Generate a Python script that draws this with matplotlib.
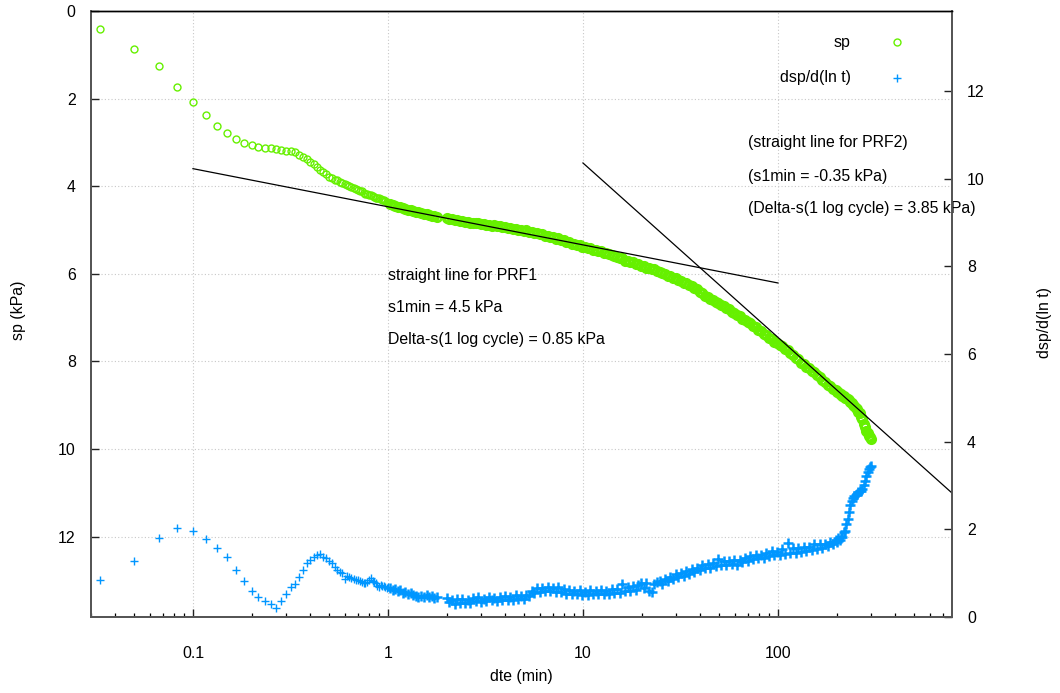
import numpy as np
import matplotlib
matplotlib.use("Agg")
import matplotlib.pyplot as plt
from matplotlib.ticker import FixedLocator, FixedFormatter, LogLocator, NullFormatter

plt.rcParams['font.family'] = ['Liberation Sans', 'DejaVu Sans']

# ---------------- data ----------------
# elapsed time dte (min)
dte_early = [
    0.0333, 0.05, 0.0667, 0.0833, 0.1, 0.1167, 0.1333, 0.15, 0.1667, 0.1833,
    0.2, 0.2167, 0.2333, 0.25, 0.2667, 0.2833, 0.3, 0.3167, 0.3333, 0.35,
    0.3667, 0.3833, 0.4, 0.4167, 0.4333, 0.45, 0.4667, 0.4833, 0.5, 0.5167,
    0.5333, 0.55, 0.5667, 0.5833, 0.6, 0.6167, 0.6333, 0.65, 0.6667, 0.6833,
    0.7, 0.7167, 0.7333, 0.75, 0.7667, 0.7833, 0.8, 0.8167, 0.8333, 0.85,
    0.8667, 0.8833, 0.9, 0.9167, 0.9333, 0.95, 0.9667, 0.9833, 1.0,
]
sp_early = [
    0.42, 0.86, 1.26, 1.73, 2.07, 2.37, 2.63, 2.79, 2.92, 3.02,
    3.07, 3.11, 3.12, 3.13, 3.16, 3.18, 3.20, 3.20, 3.22, 3.28,
    3.33, 3.39, 3.44, 3.49, 3.56, 3.62, 3.68, 3.73, 3.78, 3.82,
    3.85, 3.87, 3.90, 3.93, 3.95, 3.98, 4.00, 4.03, 4.05, 4.07,
    4.09, 4.10, 4.12, 4.15, 4.17, 4.18, 4.20, 4.21, 4.23, 4.24,
    4.26, 4.27, 4.28, 4.30, 4.31, 4.32, 4.34, 4.36, 4.38,
]
dsp_early = [
    0.84, 1.28, 1.80, 2.03, 1.95, 1.77, 1.56, 1.36, 1.06, 0.82,
    0.59, 0.46, 0.36, 0.28, 0.21, 0.36, 0.51, 0.67, 0.75, 0.91,
    1.07, 1.22, 1.30, 1.37, 1.41, 1.43, 1.37, 1.33, 1.28, 1.23,
    1.14, 1.07, 1.02, 0.99, 0.85, 0.94, 0.91, 0.88, 0.86, 0.84,
    0.83, 0.82, 0.80, 0.78, 0.76, 0.80, 0.84, 0.88, 0.82, 0.79,
    0.76, 0.70, 0.67, 0.72, 0.70, 0.71, 0.68, 0.66, 0.67,
]

dte_mid = [
    1.03, 1.06, 1.09, 1.12, 1.15, 1.19, 1.23, 1.27, 1.31, 1.35,
    1.39, 1.43, 1.48, 1.53, 1.58, 1.63, 1.68, 1.73, 1.78,
]
sp_mid = [
    4.41, 4.43, 4.45, 4.47, 4.48, 4.50, 4.52, 4.54, 4.55, 4.56,
    4.58, 4.59, 4.61, 4.63, 4.64, 4.66, 4.67, 4.68, 4.70,
]
dsp_mid = [
    0.66, 0.62, 0.64, 0.58, 0.60, 0.55, 0.57, 0.52, 0.54, 0.49,
    0.47, 0.44, 0.48, 0.45, 0.49, 0.44, 0.47, 0.42, 0.45,
]

dte_late = [
    2.0, 2.06, 2.13, 2.2, 2.27, 2.34, 2.41, 2.49, 2.57, 2.65,
    2.73, 2.82, 2.91, 3.0, 3.1, 3.2, 3.3, 3.4, 3.51, 3.62,
    3.74, 3.86, 3.98, 4.11, 4.24, 4.38, 4.52, 4.66, 4.81, 4.96,
    5.12, 5.29, 5.46, 5.63, 5.81, 6.0, 6.19, 6.39, 6.59, 6.8,
    7.02, 7.25, 7.48, 7.72, 7.96, 8.22, 8.48, 8.75, 9.03, 9.32,
    9.62, 9.93, 10.25, 10.58, 10.91, 11.26, 11.62, 12.0, 12.38, 12.78,
    13.19, 13.61, 14.04, 14.49, 14.96, 15.44, 15.93, 16.44, 16.96, 17.51,
    18.07, 18.65, 19.24, 19.86, 20.5, 21.15, 21.83, 22.53, 23.25, 23.99,
    24.76, 25.55, 26.37, 27.21, 28.08, 28.98, 29.91, 30.87, 31.85, 32.87,
    33.92, 35.01, 36.13, 37.28, 38.48, 39.71, 40.98, 42.29, 43.64, 45.04,
    46.48, 47.97, 49.5, 51.08, 52.72, 54.4, 56.14, 57.94, 59.79, 61.71,
    63.68, 65.72, 67.82, 69.99, 72.23, 74.54, 76.93, 79.39, 81.93, 84.55,
    87.26, 90.05, 92.93, 95.9, 98.97, 102.1, 105.4, 108.8, 112.3, 115.9,
    119.6, 123.4, 127.3, 131.4, 135.6, 139.9, 144.4, 149.0, 153.8, 158.7,
    163.8, 169.0, 174.4, 180.0, 185.8, 191.7, 197.8, 201.0, 204.2, 207.4,
    210.7, 214.0, 217.4, 220.9, 224.4, 228.0, 231.6, 235.3, 239.0, 242.8,
    246.6, 250.5, 254.5, 258.6, 262.7, 266.9, 271.1, 275.4, 279.7, 284.2,
    288.7, 293.3, 297.9, 300.0,
]
sp_late = [
    4.73, 4.75, 4.75, 4.78, 4.77, 4.80, 4.79, 4.82, 4.81, 4.84,
    4.83, 4.85, 4.84, 4.87, 4.86, 4.89, 4.88, 4.91, 4.89, 4.92,
    4.91, 4.94, 4.93, 4.96, 4.95, 4.98, 4.97, 5.00, 4.99, 5.02,
    5.01, 5.04, 5.04, 5.07, 5.07, 5.10, 5.10, 5.13, 5.13, 5.16,
    5.16, 5.20, 5.19, 5.23, 5.23, 5.27, 5.27, 5.31, 5.31, 5.35,
    5.35, 5.39, 5.38, 5.42, 5.41, 5.45, 5.45, 5.48, 5.48, 5.52,
    5.52, 5.55, 5.56, 5.60, 5.61, 5.65, 5.65, 5.70, 5.70, 5.74,
    5.74, 5.78, 5.78, 5.82, 5.82, 5.86, 5.86, 5.90, 5.90, 5.94,
    5.95, 5.99, 6.00, 6.04, 6.05, 6.10, 6.10, 6.15, 6.16, 6.21,
    6.21, 6.26, 6.27, 6.33, 6.35, 6.41, 6.44, 6.50, 6.52, 6.58,
    6.60, 6.65, 6.67, 6.72, 6.74, 6.79, 6.81, 6.87, 6.89, 6.95,
    6.97, 7.03, 7.05, 7.11, 7.13, 7.20, 7.22, 7.29, 7.31, 7.38,
    7.40, 7.47, 7.49, 7.55, 7.57, 7.63, 7.66, 7.72, 7.75, 7.82,
    7.85, 7.92, 7.95, 8.03, 8.06, 8.13, 8.15, 8.22, 8.25, 8.32,
    8.36, 8.43, 8.46, 8.53, 8.56, 8.62, 8.65, 8.69, 8.69, 8.74,
    8.74, 8.78, 8.78, 8.83, 8.83, 8.87, 8.88, 8.93, 8.95, 9.00,
    9.02, 9.07, 9.09, 9.15, 9.18, 9.27, 9.32, 9.43, 9.49, 9.59,
    9.64, 9.71, 9.73, 9.77,
]
dsp_late = [
    0.43, 0.34, 0.38, 0.29, 0.40, 0.32, 0.41, 0.31, 0.37, 0.32,
    0.42, 0.35, 0.44, 0.34, 0.41, 0.35, 0.45, 0.37, 0.43, 0.36,
    0.45, 0.39, 0.47, 0.38, 0.44, 0.38, 0.49, 0.40, 0.48, 0.40,
    0.49, 0.47, 0.59, 0.55, 0.65, 0.57, 0.66, 0.59, 0.68, 0.58,
    0.65, 0.57, 0.67, 0.57, 0.64, 0.52, 0.60, 0.51, 0.59, 0.51,
    0.60, 0.49, 0.57, 0.49, 0.60, 0.52, 0.59, 0.51, 0.61, 0.52,
    0.59, 0.52, 0.63, 0.55, 0.63, 0.55, 0.74, 0.59, 0.67, 0.59,
    0.69, 0.62, 0.73, 0.76, 0.66, 0.76, 0.58, 0.56, 0.75, 0.79,
    0.82, 0.75, 0.86, 0.81, 0.91, 0.86, 0.97, 0.91, 1.00, 0.94,
    1.04, 0.98, 1.09, 1.02, 1.11, 1.06, 1.17, 1.11, 1.20, 1.12,
    1.23, 1.15, 1.31, 1.18, 1.28, 1.18, 1.28, 1.20, 1.30, 1.19,
    1.30, 1.25, 1.35, 1.28, 1.38, 1.31, 1.40, 1.33, 1.42, 1.35,
    1.45, 1.39, 1.49, 1.40, 1.48, 1.42, 1.55, 1.43, 1.68, 1.46,
    1.56, 1.46, 1.56, 1.48, 1.59, 1.51, 1.60, 1.52, 1.65, 1.55,
    1.65, 1.57, 1.67, 1.61, 1.71, 1.65, 1.75, 1.71, 1.79, 1.74,
    1.83, 1.81, 1.93, 1.96, 2.11, 2.22, 2.38, 2.55, 2.64, 2.70,
    2.75, 2.78, 2.81, 2.84, 2.86, 2.88, 2.92, 3.00, 3.10, 3.22,
    3.30, 3.38, 3.42, 3.45,
]

# straight-line fits (end points, in data units)
prf1_t = [0.1, 100.0]
prf1_sp = [3.60, 6.21]
prf2_t = [10.0, 778.0]
prf2_sp = [3.47, 11.0]

x_ticks = [0.1, 1, 10, 100]
x_tick_labels = ['0.1', '1', '10', '100']
y_left_ticks = [0, 2, 4, 6, 8, 10, 12]
y_right_ticks = [0, 2, 4, 6, 8, 10, 12]

GREEN = '#66f000'
BLUE = '#0096ff'
FS = 11.4

# ---------------- figure ----------------
W, H = 1060, 693
fig = plt.figure(figsize=(W / 100, H / 100), dpi=100)
L, R, T, B = 91, 951.7, 11, 616.7
ax = fig.add_axes([L / W, (H - B) / H, (R - L) / W, (B - T) / H])
ax2 = ax.twinx()

ax.set_xscale('log')
ax.set_xlim(0.03, 778)
ax.set_ylim(13.83, 0)
ax2.set_ylim(0, 13.83)

dte_dense = dte_mid + dte_late
sp_dense = sp_mid + sp_late
dsp_dense = dsp_mid + dsp_late

# sparse early points: thin rings / crosses
ax.plot(dte_early, sp_early, linestyle='none', marker='o', markersize=5,
        markerfacecolor='none', markeredgecolor=GREEN, markeredgewidth=1.0, zorder=3)
# dense part: many overlapping points make a heavy band
ax.plot(dte_dense, sp_dense, linestyle='none', marker='o', markersize=6,
        markerfacecolor='none', markeredgecolor=GREEN, markeredgewidth=2.0, zorder=3)
ax.plot(prf1_t, prf1_sp, color='black', lw=0.9, zorder=4)
ax.plot(prf2_t, prf2_sp, color='black', lw=0.9, zorder=4)

ax2.plot(dte_early, dsp_early, linestyle='none', marker='+', markersize=5.5,
         color=BLUE, markeredgewidth=1.0, zorder=3)
ax2.plot(dte_dense, dsp_dense, linestyle='none', marker='+', markersize=7.5,
         color=BLUE, markeredgewidth=1.8, zorder=3)

# grid
ax.set_axisbelow(True)
ax.grid(True, which='major', axis='both', color='#c8c8c8', lw=0.8,
        linestyle=(0, (1, 2)))

# ticks
ax.xaxis.set_major_locator(FixedLocator(x_ticks))
ax.xaxis.set_major_formatter(FixedFormatter(x_tick_labels))
ax.xaxis.set_minor_locator(LogLocator(base=10, subs=np.arange(2, 10)))
ax.xaxis.set_minor_formatter(NullFormatter())
ax.set_yticks(y_left_ticks)
ax2.set_yticks(y_right_ticks)

ax.tick_params(axis='x', which='major', direction='in', length=6, width=1.0,
               pad=21, labelsize=FS, top=False, colors='#222222')
ax.tick_params(axis='x', which='minor', direction='in', length=3, width=0.9, top=False)
ax.tick_params(axis='y', which='major', direction='in', length=6, width=1.0,
               pad=11, labelsize=FS, right=False, colors='#222222')
ax.tick_params(axis='y', which='minor', left=False)
ax2.tick_params(axis='y', which='major', direction='in', length=6, width=1.0,
                pad=11, labelsize=FS, colors='#222222')
for t in ax.get_xticklabels() + ax.get_yticklabels() + ax2.get_yticklabels():
    t.set_color('black')

for a in (ax, ax2):
    for s in ('left', 'bottom', 'right'):
        a.spines[s].set_color('#555555')
        a.spines[s].set_linewidth(1.3)
    a.spines['top'].set_color('black')
    a.spines['top'].set_linewidth(1.0)

# axis labels
fig.text(18 / W, 1 - 310 / H, 'sp (kPa)', rotation=90, ha='center', va='center', fontsize=FS)
fig.text(1045 / W, 1 - 322 / H, 'dsp/d(ln t)', rotation=90, ha='center', va='center', fontsize=FS)
fig.text(521 / W, 1 - 676.5 / H, 'dte (min)', ha='center', va='center', fontsize=FS)

# annotations
ax.text(1.0, 6.05, 'straight line for PRF1', ha='left', va='center', fontsize=FS)
ax.text(1.0, 6.78, 's1min = 4.5 kPa', ha='left', va='center', fontsize=FS)
ax.text(1.0, 7.51, 'Delta-s(1 log cycle) = 0.85 kPa', ha='left', va='center', fontsize=FS)
ax.text(70.2, 3.01, '(straight line for PRF2)', ha='left', va='center', fontsize=FS)
ax.text(70.2, 3.77, '(s1min = -0.35 kPa)', ha='left', va='center', fontsize=FS)
ax.text(70.2, 4.50, '(Delta-s(1 log cycle) = 3.85 kPa)', ha='left', va='center', fontsize=FS,
        zorder=6)

# key (legend) drawn in axes fractions
kx_text, kx_mark = 0.8827, 0.9365
ax2.text(kx_text, 0.9488, 'sp', transform=ax2.transAxes, ha='right', va='center', fontsize=FS)
ax2.plot([kx_mark], [0.9488], transform=ax2.transAxes, linestyle='none', marker='o',
         markersize=5, markerfacecolor='none', markeredgecolor=GREEN, markeredgewidth=1.0)
ax2.text(kx_text, 0.8894, 'dsp/d(ln t)', transform=ax2.transAxes, ha='right', va='center', fontsize=FS)
ax2.plot([kx_mark], [0.8894], transform=ax2.transAxes, linestyle='none', marker='+',
         markersize=5.5, color=BLUE, markeredgewidth=1.0)

fig.savefig('out.png', dpi=100)
